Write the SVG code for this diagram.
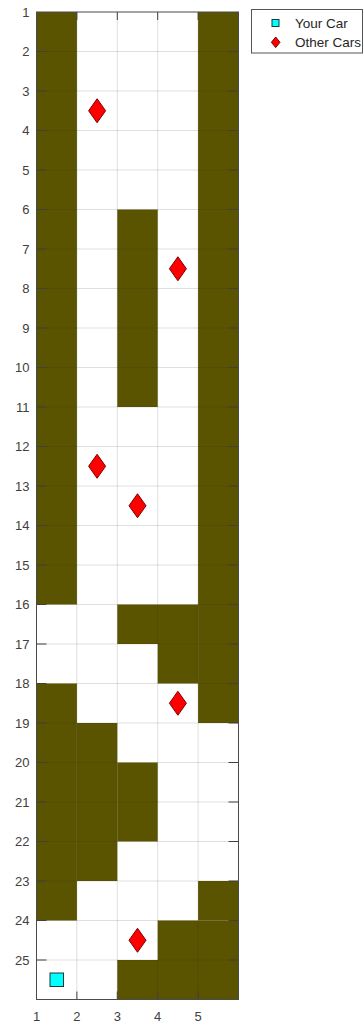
<svg xmlns="http://www.w3.org/2000/svg" width="363" height="1023" viewBox="0 0 363 1023">
<style>
.wall{fill:#5a5400}
.grid{stroke:#262626;stroke-opacity:0.15;stroke-width:1;fill:none}
.tick{stroke:#404040;stroke-width:1}
.ax{stroke:#4a4a4a;stroke-width:1;fill:none}
.lbl{font-family:"Liberation Sans",Arial,sans-serif;font-size:13px;fill:#404040}
.ylbl{text-anchor:end}
.xlbl{text-anchor:middle}
.car{fill:#ff0000;stroke:#7a0000;stroke-width:1}
.me{fill:#00ffff;stroke:#1a3a3a;stroke-width:1}
.leg{font-family:"Liberation Sans",Arial,sans-serif;font-size:13.5px;fill:#262626}
</style>
<defs>
<polygon id="dia" points="0,-12 8.5,0 0,12 -8.5,0"/>
</defs>
<rect width="363" height="1023" fill="#ffffff"/>
<g id="plot-area">
<rect x="36.5" y="12" width="202" height="987.5" fill="#ffffff"/>
<g id="walls">
<rect class="wall" x="36.5" y="12" width="40.4" height="592.5"/>
<rect class="wall" x="198.1" y="12" width="40.4" height="711"/>
<rect class="wall" x="117.3" y="209.5" width="40.4" height="197.5"/>
<rect class="wall" x="117.3" y="604.5" width="80.8" height="39.5"/>
<rect class="wall" x="157.7" y="644" width="40.4" height="39.5"/>
<rect class="wall" x="36.5" y="683.5" width="40.4" height="237"/>
<rect class="wall" x="76.9" y="723" width="40.4" height="158"/>
<rect class="wall" x="117.3" y="762.5" width="40.4" height="79"/>
<rect class="wall" x="198.1" y="881" width="40.4" height="39.5"/>
<rect class="wall" x="157.7" y="920.5" width="80.8" height="39.5"/>
<rect class="wall" x="117.3" y="960" width="121.2" height="39.5"/>
</g>
<g id="gridlines" class="grid">
<path d="M76.9 12V999.5M117.3 12V999.5M157.7 12V999.5M198.1 12V999.5"/>
<path d="M36.5 51.5H238.5M36.5 91H238.5M36.5 130.5H238.5M36.5 170H238.5M36.5 209.5H238.5M36.5 249H238.5M36.5 288.5H238.5M36.5 328H238.5M36.5 367.5H238.5M36.5 407H238.5M36.5 446.5H238.5M36.5 486H238.5M36.5 525.5H238.5M36.5 565H238.5M36.5 604.5H238.5M36.5 644H238.5M36.5 683.5H238.5M36.5 723H238.5M36.5 762.5H238.5M36.5 802H238.5M36.5 841.5H238.5M36.5 881H238.5M36.5 920.5H238.5M36.5 960H238.5"/>
</g>
<g id="ticks" class="tick">
<path d="M36.5 51.5h10M36.5 91h10M36.5 130.5h10M36.5 170h10M36.5 209.5h10M36.5 249h10M36.5 288.5h10M36.5 328h10M36.5 367.5h10M36.5 407h10M36.5 446.5h10M36.5 486h10M36.5 525.5h10M36.5 565h10M36.5 604.5h10M36.5 644h10M36.5 683.5h10M36.5 723h10M36.5 762.5h10M36.5 802h10M36.5 841.5h10M36.5 881h10M36.5 920.5h10M36.5 960h10"/>
<path d="M238.5 51.5h-10M238.5 91h-10M238.5 130.5h-10M238.5 170h-10M238.5 209.5h-10M238.5 249h-10M238.5 288.5h-10M238.5 328h-10M238.5 367.5h-10M238.5 407h-10M238.5 446.5h-10M238.5 486h-10M238.5 525.5h-10M238.5 565h-10M238.5 604.5h-10M238.5 644h-10M238.5 683.5h-10M238.5 723h-10M238.5 762.5h-10M238.5 802h-10M238.5 841.5h-10M238.5 881h-10M238.5 920.5h-10M238.5 960h-10"/>
<path d="M76.9 999.5v-8M117.3 999.5v-8M157.7 999.5v-8M198.1 999.5v-8M76.9 12v8M117.3 12v8M157.7 12v8M198.1 12v8"/>
</g>
<rect id="axes-box" class="ax" x="36.5" y="12" width="202" height="987.5"/>
</g>
<g id="y-labels" class="lbl ylbl">
<text x="29.5" y="16.5">1</text>
<text x="29.5" y="56">2</text>
<text x="29.5" y="95.5">3</text>
<text x="29.5" y="135">4</text>
<text x="29.5" y="174.5">5</text>
<text x="29.5" y="214">6</text>
<text x="29.5" y="253.5">7</text>
<text x="29.5" y="293">8</text>
<text x="29.5" y="332.5">9</text>
<text x="29.5" y="372">10</text>
<text x="29.5" y="411.5">11</text>
<text x="29.5" y="451">12</text>
<text x="29.5" y="490.5">13</text>
<text x="29.5" y="530">14</text>
<text x="29.5" y="569.5">15</text>
<text x="29.5" y="609">16</text>
<text x="29.5" y="648.5">17</text>
<text x="29.5" y="688">18</text>
<text x="29.5" y="727.5">19</text>
<text x="29.5" y="767">20</text>
<text x="29.5" y="806.5">21</text>
<text x="29.5" y="846">22</text>
<text x="29.5" y="885.5">23</text>
<text x="29.5" y="925">24</text>
<text x="29.5" y="964.5">25</text>
</g>
<g id="x-labels" class="lbl xlbl">
<text x="36.5" y="1021">1</text>
<text x="76.9" y="1021">2</text>
<text x="117.3" y="1021">3</text>
<text x="157.7" y="1021">4</text>
<text x="198.1" y="1021">5</text>
</g>
<g id="other-cars">
<use href="#dia" class="car" x="97.1" y="110.75"/>
<use href="#dia" class="car" x="177.9" y="268.75"/>
<use href="#dia" class="car" x="97.1" y="466.25"/>
<use href="#dia" class="car" x="137.5" y="505.75"/>
<use href="#dia" class="car" x="177.9" y="703.25"/>
<use href="#dia" class="car" x="137.5" y="940.25"/>
</g>
<g id="your-car">
<rect class="me" x="50" y="973" width="13.5" height="13.5"/>
</g>
<g id="legend">
<rect x="251.5" y="9.5" width="111" height="43.5" fill="#ffffff" stroke="#555555" stroke-width="1"/>
<rect class="me" x="272" y="19.5" width="7" height="7"/>
<polygon class="car" points="275.7,37 280,42.3 275.7,47.6 271.4,42.3"/>
<text class="leg" x="295" y="28">Your Car</text>
<text class="leg" x="295" y="47">Other Cars</text>
</g>
</svg>
